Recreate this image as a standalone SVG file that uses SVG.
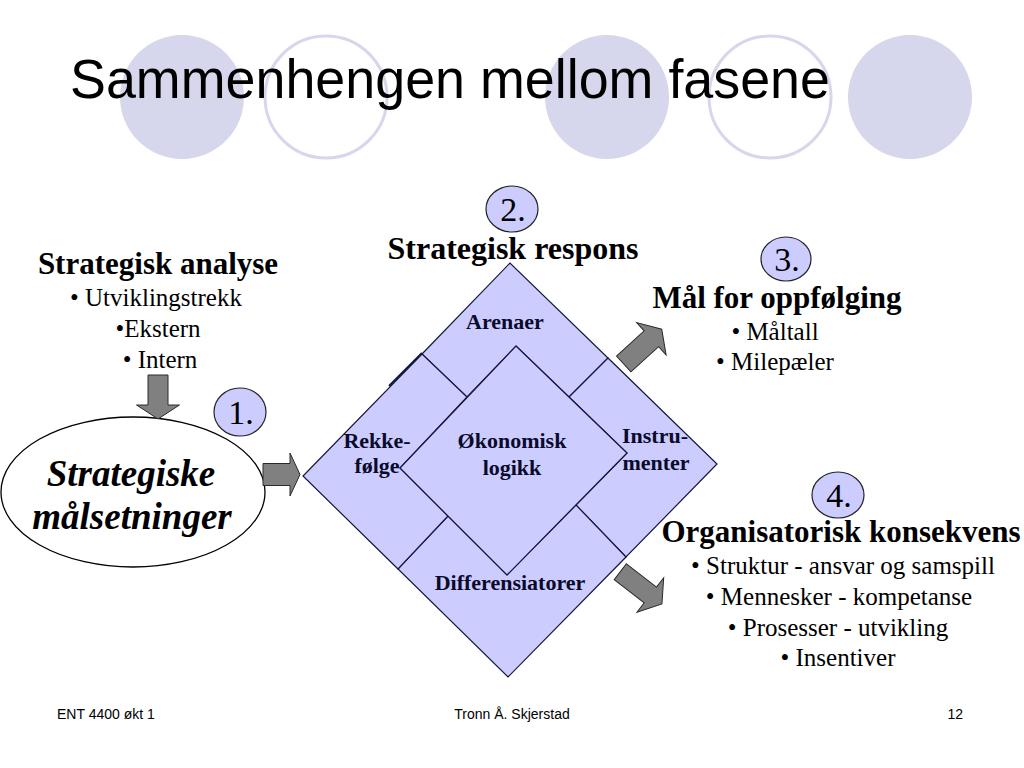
<svg xmlns="http://www.w3.org/2000/svg" width="1024" height="768" viewBox="0 0 1024 768">
<style>
.bg{fill:#fff}
.deco{fill:#d6d6ec}
.decoo{fill:#fff;stroke:#d6d6ec;stroke-width:3}
.title{font-family:"Liberation Sans",Arial,sans-serif;font-size:55px;fill:#000}
.foot{font-family:"Liberation Sans",Arial,sans-serif;font-size:14px;fill:#000}
.hd{font-family:"Liberation Serif","Times New Roman",serif;font-weight:bold;font-size:31px;fill:#000;text-anchor:middle}
.it{font-family:"Liberation Serif","Times New Roman",serif;font-size:25px;fill:#000;text-anchor:middle}
.num{font-family:"Liberation Serif","Times New Roman",serif;font-size:34px;fill:#000;text-anchor:middle}
.dtx{font-family:"Liberation Serif","Times New Roman",serif;font-weight:bold;font-size:22px;fill:#0a0a2a;text-anchor:middle}
.big{font-family:"Liberation Serif","Times New Roman",serif;font-weight:bold;font-style:italic;font-size:37px;fill:#000;text-anchor:middle}
.reg{fill:#ccccff;stroke:#15153a;stroke-width:1.2;stroke-linejoin:miter}
.circ{fill:#ccccff;stroke:#222;stroke-width:1.2}
.ell{fill:#fff;stroke:#000;stroke-width:1.3}
.arr{fill:#808080;stroke:#2a2a2a;stroke-width:1}
</style>
<rect class="bg" x="0" y="0" width="1024" height="768"/>

<g id="decor">
<circle class="deco" cx="182" cy="97" r="62"/>
<circle class="decoo" cx="326" cy="97" r="61"/>
<circle class="deco" cx="607" cy="97" r="62"/>
<circle class="decoo" cx="770" cy="97" r="61"/>
<circle class="deco" cx="910" cy="97" r="62"/>
</g>

<text class="title" x="70" y="98" textLength="760" lengthAdjust="spacingAndGlyphs">Sammenhengen mellom fasene</text>

<g id="analyse">
<text class="hd" x="158" y="274">Strategisk analyse</text>
<text class="it" x="156" y="306">• Utviklingstrekk</text>
<text class="it" x="158" y="337">•Ekstern</text>
<text class="it" x="160" y="368">• Intern</text>
</g>

<g id="malsetninger">
<ellipse class="ell" cx="133" cy="492" rx="132" ry="75"/>
<text class="big" x="131" y="486">Strategiske</text>
<text class="big" x="132" y="529">målsetninger</text>
</g>

<g id="num1"><ellipse class="circ" cx="240" cy="412" rx="26" ry="24"/><text class="num" x="241" y="424">1.</text></g>
<g id="num2"><ellipse class="circ" cx="512" cy="209" rx="26" ry="23"/><text class="num" x="513" y="221">2.</text></g>
<g id="num3"><ellipse class="circ" cx="786" cy="259" rx="25" ry="22"/><text class="num" x="787" y="271">3.</text></g>
<g id="num4"><ellipse class="circ" cx="838" cy="495" rx="26" ry="23"/><text class="num" x="839" y="507">4.</text></g>

<g id="respons-title">
<text class="hd" x="513" y="259" style="font-size:32px">Strategisk respons</text>
</g>

<g id="arenaer">
<polygon class="reg" points="422,354 510,263 608,358 569,397 516,346 467,397"/>
<text class="dtx" x="505" y="329">Arenaer</text>
</g>
<g id="instrumenter">
<polygon class="reg" points="608,358 717,464 626,557 576,505 627,453 569,397"/>
<text class="dtx" x="655" y="443">Instru-</text>
<text class="dtx" x="656" y="470">menter</text>
</g>
<g id="differensiatorer">
<polygon class="reg" points="626,557 508,677 398,569 448,516 507,575 576,505"/>
<text class="dtx" x="510" y="590">Differensiatorer</text>
</g>
<g id="rekkefolge">
<polygon class="reg" points="398,569 303,476 422,354 467,397 400,468 448,516"/>
<line x1="389" y1="386" x2="422" y2="353" stroke="#15153a" stroke-width="2"/>
<text class="dtx" x="377" y="448">Rekke-</text>
<text class="dtx" x="377" y="473">følge</text>
</g>
<g id="okonomisk">
<polygon class="reg" points="516,346 627,453 507,575 400,468"/>
<text class="dtx" x="512" y="448">Økonomisk</text>
<text class="dtx" x="512" y="475">logikk</text>
</g>

<g id="maal">
<text class="hd" x="777" y="308">Mål for oppfølging</text>
<text class="it" x="775" y="340">• Måltall</text>
<text class="it" x="775" y="370">• Milepæler</text>
</g>

<g id="konsekvens">
<text class="hd" x="841" y="542">Organisatorisk konsekvens</text>
<text class="it" x="843" y="574">• Struktur - ansvar og samspill</text>
<text class="it" x="839" y="605">• Mennesker - kompetanse</text>
<text class="it" x="838" y="636">• Prosesser - utvikling</text>
<text class="it" x="838" y="666">• Insentiver</text>
</g>

<g id="connectors">
<path class="arr" transform="translate(158,375) rotate(90)" d="M0,-10 L30,-10 L30,-21.5 L44,0 L30,21.5 L30,10 L0,10 Z"/>
<path class="arr" transform="translate(263,474.5)" d="M0,-11 L27,-11 L27,-21.5 L37,0 L27,21.5 L27,11 L0,11 Z"/>
<path class="arr" transform="translate(623.7,364) rotate(-42.4)" d="M0,-10.7 L37.5,-10.7 L37.5,-21.8 L51.5,0 L37.5,21.8 L37.5,10.7 L0,10.7 Z"/>
<path class="arr" transform="translate(620.3,571.7) rotate(37.8)" d="M0,-10 L38,-10 L38,-21.8 L52.7,0 L38,21.8 L38,10 L0,10 Z"/>
</g>

<g id="footer">
<text class="foot" x="57" y="719">ENT 4400 økt 1</text>
<text class="foot" x="512" y="719" text-anchor="middle">Tronn Å. Skjerstad</text>
<text class="foot" x="963" y="719" text-anchor="end">12</text>
</g>
</svg>
